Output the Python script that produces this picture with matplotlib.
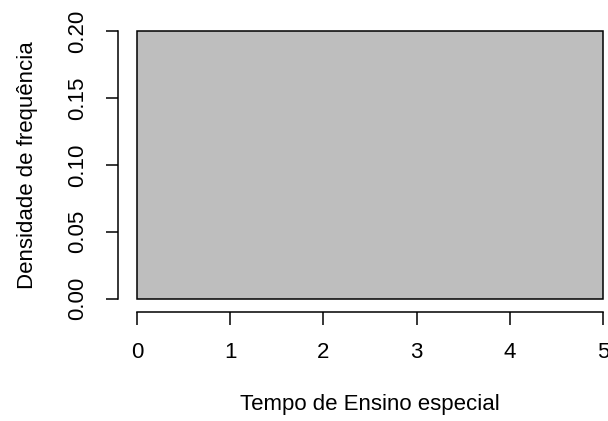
import matplotlib
matplotlib.use("Agg")
import matplotlib.pyplot as plt
import numpy as np

plt.rcParams['font.family'] = ['Liberation Sans', 'DejaVu Sans']

# Histogram of teaching time: one bin spanning 0..5
bin_edges = [0, 5]
densities = [0.2]
x_ticks = [0, 1, 2, 3, 4, 5]
y_ticks = [0.00, 0.05, 0.10, 0.15, 0.20]
y_tick_labels = ["0.00", "0.05", "0.10", "0.15", "0.20"]

W, H = 608, 421
fig = plt.figure(figsize=(W / 100, H / 100), dpi=100)

# plot region in pixels (R-style 4% padding around data range)
left_px, right_px = 118.4, 621.6
top_px, bottom_px = 20.3, 309.5
ax = fig.add_axes([left_px / W, 1 - bottom_px / H,
                   (right_px - left_px) / W, (bottom_px - top_px) / H])

edges = np.array(bin_edges)
ax.bar(edges[:-1], densities, width=np.diff(edges), align='edge',
       color='#BEBEBE', edgecolor='black', linewidth=1.1)

ax.set_xlim(-0.2, 5.2)
ax.set_ylim(-0.008, 0.208)

for s in ('top', 'right'):
    ax.spines[s].set_visible(False)
ax.spines['bottom'].set_bounds(0, 5)
ax.spines['left'].set_bounds(0, 0.2)
ax.spines['bottom'].set_position(('outward', 1.5))
for s in ('bottom', 'left'):
    ax.spines[s].set_linewidth(1.1)

fs = 16
ax.set_xticks(x_ticks)
ax.set_xticklabels([str(v) for v in x_ticks])
ax.set_yticks(y_ticks)
ax.set_yticklabels(y_tick_labels, rotation=90, va='center')
ax.tick_params(axis='both', direction='out', length=9, width=1.1,
               labelsize=fs, colors='black')
ax.tick_params(axis='x', pad=13)
ax.tick_params(axis='y', pad=12.5)

ax.set_xlabel("Tempo de Ensino especial", fontsize=fs, labelpad=22)
ax.set_ylabel("Densidade de frequência", fontsize=fs, labelpad=21.5)

fig.savefig("out.png", dpi=100)
